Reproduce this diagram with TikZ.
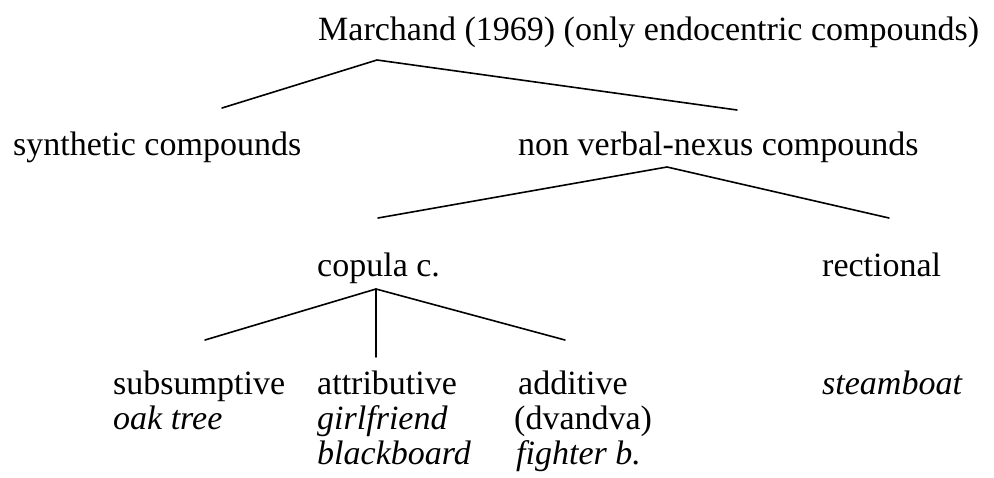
\documentclass[tikz,border=0pt]{standalone}
\usepackage{fontspec}
\setmainfont{Liberation Serif}
\begin{document}
\begin{tikzpicture}[x=1pt,y=-1pt,
  lbl/.style={anchor=base west,inner sep=0pt,font=\fontsize{34}{40}\selectfont},
  ex/.style={lbl,font=\fontsize{34}{40}\selectfont\itshape},
  edge/.style={line width=1.6pt,line cap=round,line join=round}]
\useasboundingbox (0,0) rectangle (994,477);
\node[lbl] (top) at (318,40) {Marchand (1969) (only endocentric compounds)};
\node[lbl] (syn) at (13,155) {synthetic compounds};
\node[lbl] (nvn) at (518,155) {non verbal-nexus compounds};
\node[lbl] (cop) at (317,276) {copula c.};
\node[lbl] (rec) at (822,276) {rectional};
\node[lbl] (sub) at (113,394) {subsumptive};
\node[lbl] (att) at (317,394) {attributive};
\node[lbl] (add) at (518,394) {additive};
\node[ex] (stm) at (822,394) {steamboat};
\node[ex] (oak) at (113,429) {oak tree};
\node[ex] (gir) at (317,429) {girlfriend};
\node[lbl] (dva) at (514,429) {(dvandva)};
\node[ex] (bla) at (317,464) {blackboard};
\node[ex] (fig) at (516,464) {fighter b.};
\coordinate (a1) at (377,60);
\coordinate (e1) at (222,108);
\coordinate (e2) at (737,110);
\coordinate (a2) at (667,167);
\coordinate (e3) at (378,218);
\coordinate (e4) at (889,218);
\coordinate (a3) at (376,289);
\coordinate (e5) at (205,340);
\coordinate (e6) at (376,357);
\coordinate (e7) at (565,340);
\draw[edge] (e1) -- (a1) -- (e2);
\draw[edge] (e3) -- (a2) -- (e4);
\draw[edge] (e5) -- (a3) -- (e7);
\draw[edge] (a3) -- (e6);
\end{tikzpicture}
\end{document}
